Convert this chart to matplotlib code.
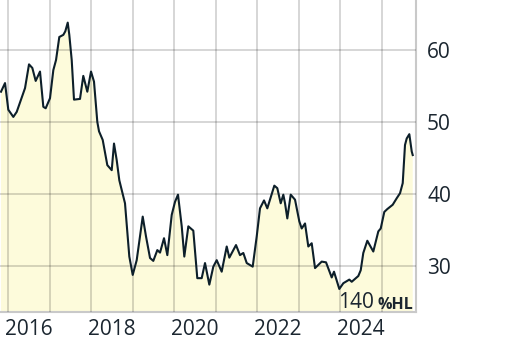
import matplotlib.pyplot as plt

# Zeitpunkte (Dezimaljahr) und Kurs
years = [
    2015.831, 2015.928, 2016.007, 2016.128, 2016.210, 2016.410, 2016.506, 2016.586,
    2016.667, 2016.771, 2016.851, 2016.908, 2017.012, 2017.092, 2017.157, 2017.236,
    2017.333, 2017.381, 2017.439, 2017.477, 2017.535, 2017.590, 2017.735, 2017.814,
    2017.911, 2018.000, 2018.072, 2018.152, 2018.193, 2018.282, 2018.393, 2018.499,
    2018.554, 2018.619, 2018.682, 2018.819, 2018.923, 2019.005, 2019.101, 2019.246,
    2019.325, 2019.422, 2019.501, 2019.598, 2019.663, 2019.759, 2019.839, 2019.945,
    2020.024, 2020.096, 2020.186, 2020.248, 2020.345, 2020.465, 2020.561, 2020.667,
    2020.747, 2020.851, 2020.947, 2021.029, 2021.149, 2021.270, 2021.333, 2021.494,
    2021.590, 2021.670, 2021.752, 2021.896, 2021.993, 2022.072, 2022.169, 2022.248,
    2022.417, 2022.489, 2022.571, 2022.634, 2022.675, 2022.730, 2022.812, 2022.916,
    2022.957, 2023.019, 2023.077, 2023.157, 2023.236, 2023.318, 2023.398, 2023.559,
    2023.663, 2023.800, 2023.855, 2023.983, 2024.080, 2024.224, 2024.282, 2024.441,
    2024.499, 2024.561, 2024.658, 2024.802, 2024.923, 2024.981, 2025.067, 2025.140,
    2025.270, 2025.366, 2025.446, 2025.511, 2025.566, 2025.607, 2025.670, 2025.728,
    2025.752,
]
prices = [
    54.2, 55.4, 51.7, 50.7, 51.4, 54.7, 58.0, 57.5,
    55.7, 57.0, 52.1, 51.9, 53.3, 57.2, 58.6, 61.8,
    62.1, 62.6, 63.8, 62.1, 58.6, 53.1, 53.2, 56.4,
    54.2, 57.0, 55.6, 50.0, 48.7, 47.5, 44.0, 43.3,
    47.0, 44.7, 41.9, 38.7, 31.3, 28.75, 30.8, 36.85,
    34.1, 31.1, 30.7, 32.2, 31.85, 33.85, 31.5, 37.1,
    38.9, 39.9, 35.5, 31.3, 35.5, 34.9, 28.3, 28.3,
    30.4, 27.4, 29.9, 30.8, 29.2, 32.7, 31.15, 32.9,
    31.5, 31.8, 30.4, 29.9, 34.1, 38.0, 39.1, 38.0,
    41.15, 40.8, 38.7, 39.9, 38.7, 36.6, 39.9, 39.2,
    38.0, 36.2, 35.2, 35.9, 32.7, 33.15, 29.7, 30.6,
    30.5, 28.4, 29.2, 26.8, 27.6, 28.1, 27.8, 28.6,
    29.4, 31.8, 33.5, 32.0, 34.8, 35.2, 37.5, 37.9,
    38.5, 39.4, 40.1, 41.5, 46.8, 47.7, 48.3, 45.9,
    45.4,
]

year_lines = list(range(2016, 2026))
year_labels = [2016, 2018, 2020, 2022, 2024]
y_ticks = [30, 40, 50, 60]
volume_value = "140"
volume_unit = "%HL"

text_col = "#1b2630"
plt.rcParams["font.family"] = ["Open Sans", "DejaVu Sans"]

fig = plt.figure(figsize=(5.12, 3.46), dpi=100)
ax = fig.add_axes([0, 34 / 346, 416 / 512, 312 / 346])

ax.fill_between(years, prices, 0, color="#fdfbdb", zorder=1, linewidth=0)
ax.plot(years, prices, color="#0d1f2a", linewidth=1.5, zorder=3)

ax.set_xlim(2015.807, 2025.831)
ax.set_ylim(23.6, 66.94)

# Gitter an Jahresanfängen, Beschriftung in der Jahresmitte
ax.set_xticks(year_lines)
ax.set_xticks([y + 0.5 for y in year_labels], minor=True)
ax.set_xticklabels([str(y) for y in year_labels], minor=True)
ax.tick_params(axis="x", which="major", length=0, labelbottom=False)
ax.tick_params(axis="x", which="minor", length=0, pad=5, labelsize=15, labelcolor=text_col)

ax.set_yticks(y_ticks)
ax.yaxis.tick_right()
ax.tick_params(axis="y", length=0, pad=8, labelsize=15, labelcolor=text_col)

ax.grid(True, which="major", color="black", alpha=0.19, linewidth=1.2)
ax.set_axisbelow(False)

for side in ["left", "top"]:
    ax.spines[side].set_visible(False)
for side in ["right", "bottom"]:
    ax.spines[side].set_color("#c9c9c9")
    ax.spines[side].set_linewidth(1.5)

ax.text(0.994, 0.011, volume_unit, transform=ax.transAxes, ha="right", va="baseline",
        fontsize=11.5, fontweight="bold", color=text_col, zorder=4)
ax.text(0.898, 0.013, volume_value, transform=ax.transAxes, ha="right", va="baseline",
        fontsize=15, color=text_col, zorder=4)

fig.savefig("out.png", dpi=100)
